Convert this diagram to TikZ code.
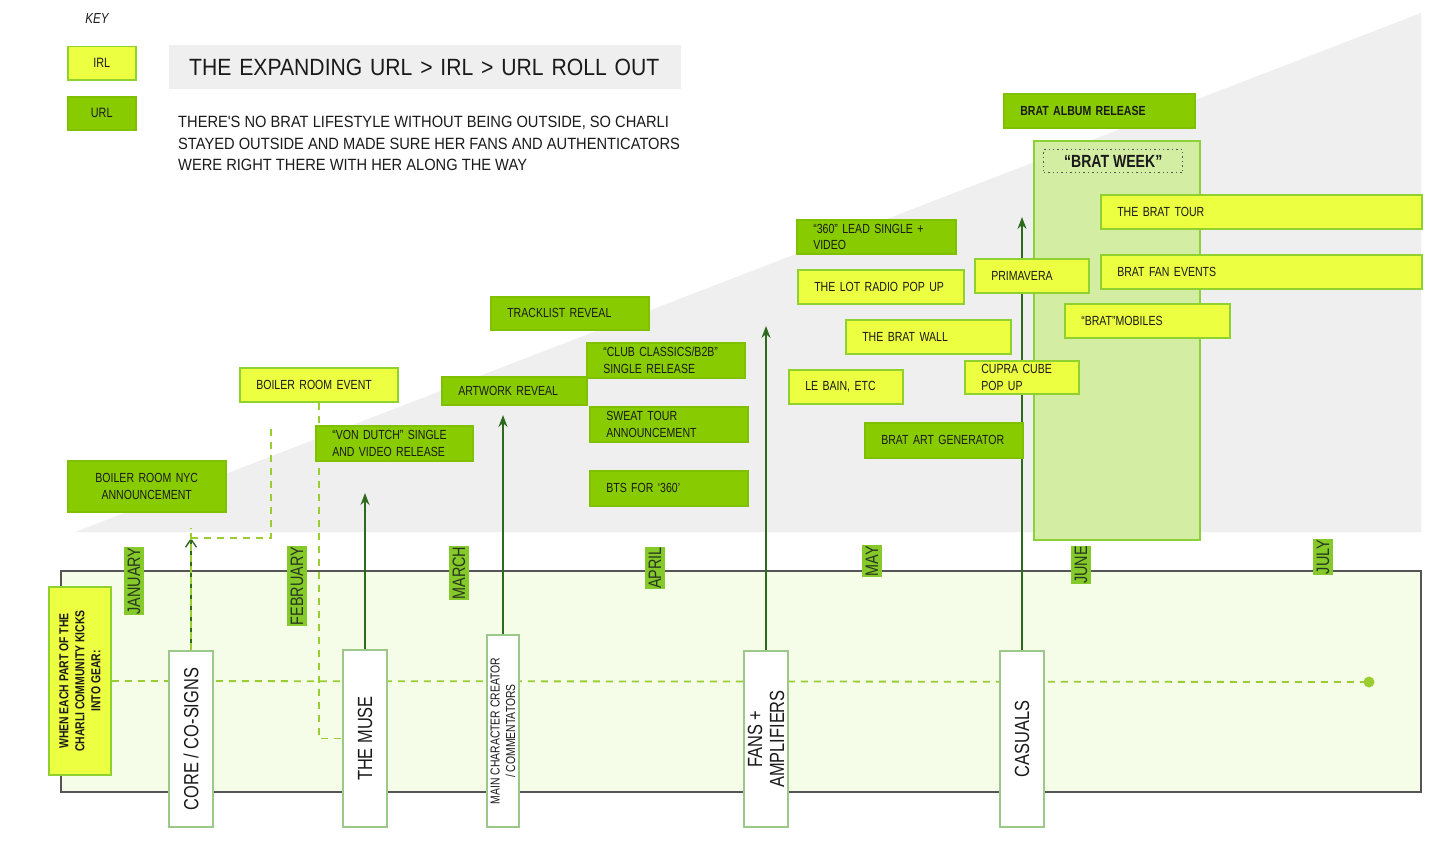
\documentclass[tikz,border=0pt]{standalone}
\usepackage{fontspec}
\setmainfont{Liberation Sans}[FakeStretch=0.80]
\newfontfamily\widefont{Liberation Sans}[FakeStretch=0.90]
\usetikzlibrary{arrows.meta}
\pgfdeclarelayer{back}
\pgfdeclarelayer{mid}
\pgfsetlayers{back,mid,main}
\definecolor{irl}{HTML}{ECFF40}
\definecolor{irlb}{HTML}{8FD12F}
\definecolor{url}{HTML}{88CC00}
\definecolor{urlb}{HTML}{7FC000}
\definecolor{weekfill}{HTML}{D3EDA3}
\definecolor{weekdraw}{HTML}{8CD136}
\definecolor{bandfill}{HTML}{F5FCE8}
\definecolor{banddraw}{HTML}{555555}
\definecolor{graybg}{HTML}{EFEFEF}
\definecolor{monthc}{HTML}{86C92A}
\definecolor{monthtxt}{HTML}{27361F}
\definecolor{arrowc}{HTML}{2D6A1E}
\definecolor{dashc}{HTML}{9ACD32}
\definecolor{vbord}{HTML}{9CC98A}
\definecolor{txt}{HTML}{1A1A1A}
\newcommand\myfs[2]{\fontsize{#1}{#2}\selectfont}
\tikzset{
  box/.style={draw, line width=1.5pt, inner ysep=0pt, inner xsep=16.5pt, anchor=north west,
    font=\myfs{13.2}{16.5}, text=txt, align=left},
  irlbox/.style={box, fill=irl, draw=irlb},
  urlbox/.style={box, fill=url, draw=urlb},
  keybox/.style={draw, line width=1.5pt, inner sep=0pt, anchor=north west, minimum width=68pt,
    minimum height=33pt, font=\myfs{13.5}{15}, text=txt},
  vbox/.style={draw=vbord, fill=white, line width=1.3pt, rotate=90, inner sep=0pt, align=center,
    text=txt, font=\myfs{20.5}{22}},
  month/.style={fill=monthc, rotate=90, inner xsep=0.5pt, inner ysep=0pt, minimum height=20pt,
    text=monthtxt, font=\myfs{18}{18}},
  arr/.style={draw=arrowc, line width=1.6pt, -{Stealth[length=12pt,width=9pt,inset=4pt]}},
  lightdash/.style={draw=dashc, line width=1.8pt, dash pattern=on 7pt off 6pt},
}
\begin{document}
\begin{tikzpicture}[x=1pt,y=-1pt]
\useasboundingbox (0,0) rectangle (1456,851);

% background shapes
\begin{pgfonlayer}{back}
  \fill[white] (0,0) rectangle (1456,851);
  \fill[graybg] (75,532) -- (1421,13) -- (1421,532) -- cycle;
  \draw[fill=bandfill, draw=banddraw, line width=1.6pt] (61,571) rectangle (1421,792);
  \node[fill=weekfill, draw=weekdraw, line width=1.5pt, anchor=north west, minimum width=166pt,
    minimum height=399pt, inner sep=0pt] (week) at (1033,140) {};
\end{pgfonlayer}

% key and titles
\node[font=\myfs{14.5}{16}\itshape, text=txt] (key) at (97,19) {KEY};
\node[keybox, fill=irl, draw=irlb] (irlkey) at (67,46) {IRL};
\node[keybox, fill=url, draw=urlb] (urlkey) at (67,96) {URL};
\node[fill=graybg, anchor=north west, minimum width=512pt, minimum height=44pt, inner xsep=20pt,
  text width=472pt, align=left, font=\widefont\myfs{23.5}{26}, text=txt] (title) at (169,45)
  {THE EXPANDING URL > IRL > URL ROLL OUT};
\node[anchor=north west, inner sep=0pt, align=left, font=\widefont\myfs{16.3}{21.5}, text=txt] (sub) at (178,116)
  {THERE'S NO BRAT LIFESTYLE WITHOUT BEING OUTSIDE, SO CHARLI\\
   STAYED OUTSIDE AND MADE SURE HER FANS AND AUTHENTICATORS\\
   WERE RIGHT THERE WITH HER ALONG THE WAY};

% URL boxes
\node[urlbox, minimum width=158pt, minimum height=51pt, text width=125pt, align=center] (nyc) at (67,460)
  {BOILER ROOM NYC\\ANNOUNCEMENT};
\node[urlbox, minimum width=157pt, minimum height=35pt, text width=124pt] (vondutch) at (315,425)
  {\mbox{“VON DUTCH” SINGLE}\\\mbox{AND VIDEO RELEASE}};
\node[urlbox, minimum width=145pt, minimum height=28pt, text width=112pt] (artwork) at (441,376)
  {\mbox{ARTWORK REVEAL}};
\node[urlbox, minimum width=158pt, minimum height=33pt, text width=125pt] (tracklist) at (490,296)
  {\mbox{TRACKLIST REVEAL}};
\node[urlbox, minimum width=158pt, minimum height=35pt, text width=125pt] (club) at (586,342)
  {\mbox{“CLUB CLASSICS/B2B”}\\\mbox{SINGLE RELEASE}};
\node[urlbox, minimum width=158pt, minimum height=35pt, text width=125pt] (sweat) at (589,406)
  {\mbox{SWEAT TOUR}\\\mbox{ANNOUNCEMENT}};
\node[urlbox, minimum width=158pt, minimum height=35pt, text width=125pt] (bts) at (589,470)
  {\mbox{BTS FOR ‘360’}};
\node[urlbox, minimum width=159pt, minimum height=34pt, text width=126pt] (lead) at (796,219)
  {\mbox{“360” LEAD SINGLE +}\\\mbox{VIDEO}};
\node[urlbox, minimum width=158pt, minimum height=35pt, text width=125pt] (artgen) at (864,422)
  {\mbox{BRAT ART GENERATOR}};
\node[urlbox, minimum width=191pt, minimum height=34pt, text width=158pt, font=\myfs{13.2}{16.5}\bfseries] (album) at (1003,93)
  {\mbox{BRAT ALBUM RELEASE}};

% IRL boxes
\node[irlbox, minimum width=158pt, minimum height=34pt, text width=125pt] (bre) at (239,367)
  {\mbox{BOILER ROOM EVENT}};
\node[irlbox, minimum width=166pt, minimum height=34pt, text width=133pt] (lot) at (797,269)
  {\mbox{THE LOT RADIO POP UP}};
\node[irlbox, minimum width=165pt, minimum height=34pt, text width=132pt] (wall) at (845,319)
  {\mbox{THE BRAT WALL}};
\node[irlbox, minimum width=114pt, minimum height=34pt, text width=81pt] (lebain) at (788,369)
  {\mbox{LE BAIN, ETC}};
\node[irlbox, minimum width=114pt, minimum height=34pt, text width=81pt] (prima) at (974,258)
  {\mbox{PRIMAVERA}};
\node[irlbox, minimum width=114pt, minimum height=33pt, text width=81pt] (cupra) at (964,360)
  {\mbox{CUPRA CUBE}\\\mbox{POP UP}};
\node[irlbox, minimum width=321pt, minimum height=34pt, text width=288pt] (tour) at (1100,194)
  {\mbox{THE BRAT TOUR}};
\node[irlbox, minimum width=321pt, minimum height=34pt, text width=288pt] (fan) at (1100,254)
  {\mbox{BRAT FAN EVENTS}};
\node[irlbox, minimum width=165pt, minimum height=34pt, text width=132pt] (mobiles) at (1064,303)
  {\mbox{“BRAT”MOBILES}};

% BRAT WEEK label
\node[draw=banddraw, line width=1.4pt, dash pattern=on 1.4pt off 3pt, anchor=north west,
  minimum width=139pt, minimum height=23pt, inner sep=0pt, font=\myfs{17.6}{19}\bfseries, text=txt]
  (bratweek) at (1043,149) {“BRAT WEEK”};

% months
\node[month] (jan) at (134,581) {JANUARY};
\node[month] (feb) at (297,586) {FEBRUARY};
\node[month] (mar) at (459,573) {MARCH};
\node[month] (apr) at (655,568) {APRIL};
\node[month] (may) at (872,561) {MAY};
\node[month] (jun) at (1081,565) {JUNE};
\node[month] (jul) at (1323,557) {JULY};

% left label
\node[fill=irl, draw=irlb, line width=1.5pt, rotate=90, minimum width=188pt, minimum height=62pt,
  inner sep=0pt, align=center, font=\myfs{13}{16}\bfseries, text=txt] (when) at (80,681)
  {WHEN EACH PART OF THE\\CHARLI COMMUNITY KICKS\\INTO GEAR:};

% community boxes
\node[vbox, minimum width=176pt, minimum height=44pt] (core) at (191,739) {CORE / CO-SIGNS};
\node[vbox, minimum width=177pt, minimum height=44pt] (muse) at (365,738.5) {THE MUSE};
\node[vbox, minimum width=192pt, minimum height=32pt, font=\myfs{13}{15.5}] (mcc) at (503,731)
  {MAIN CHARACTER CREATOR\\/ COMMENTATORS};
\node[vbox, minimum width=176pt, minimum height=44pt, font=\myfs{20.5}{22}] (fans) at (766,739)
  {FANS +\\AMPLIFIERS};
\node[vbox, minimum width=176pt, minimum height=44pt] (casuals) at (1022,739) {CASUALS};

\node[circle, fill=dashc, inner sep=0pt, minimum size=11pt] (enddot) at (1369,682) {};

\coordinate (c1) at (191,538);
\coordinate (c1top) at (271,425);
\coordinate (c2) at (365,493);
\coordinate (c3) at (503,415);
\coordinate (c4) at (766,326);
\coordinate (c5) at (1022,217);

\begin{pgfonlayer}{mid}
  \draw[lightdash] (when.south) -- (enddot.center);
  \draw[draw=arrowc, line width=1.4pt, -{Straight Barb[length=8pt,width=11pt]}] (core.east) -- (c1);
  \draw[draw=dashc, line width=1.4pt, dash pattern=on 7pt off 4pt] (core.east) -- ([yshift=10pt]c1);
  \draw[lightdash] (c1) -| (c1top);
  \draw[lightdash] (bre.south) |- (muse.north);
  \draw[arr] (muse.east) -- (c2);
  \draw[arr] (mcc.east) -- (c3);
  \draw[arr] (fans.east) -- (c4);
  \draw[arr] (casuals.east) -- (c5);
\end{pgfonlayer}
\end{tikzpicture}
\end{document}
